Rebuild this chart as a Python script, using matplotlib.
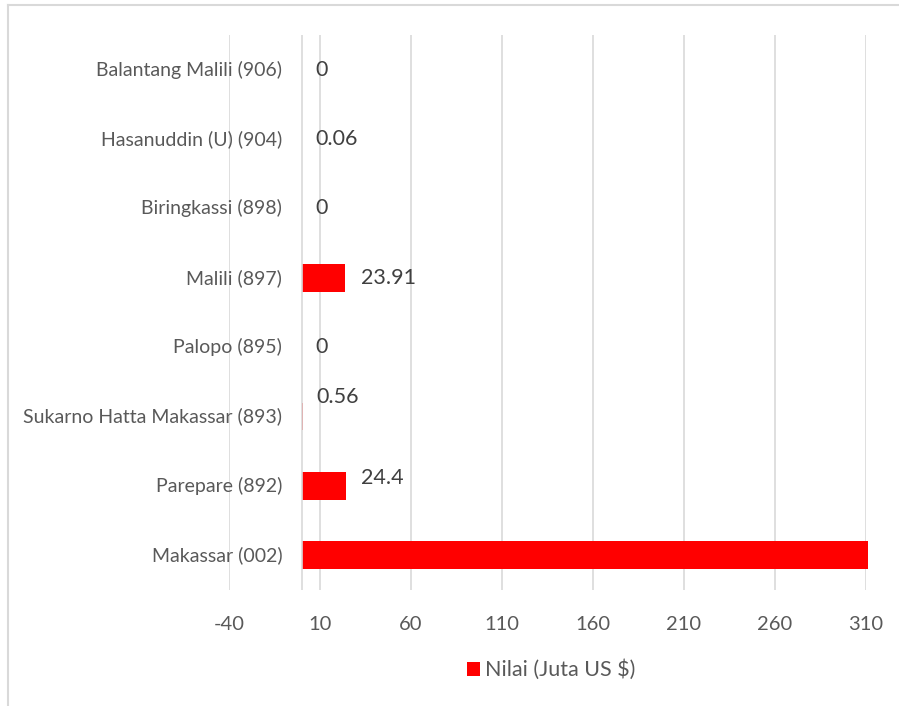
import matplotlib.pyplot as plt
from matplotlib.lines import Line2D

plt.rcParams['font.family'] = ['Lato', 'DejaVu Sans']

# data, bottom to top as in the chart
ports = ["Makassar (002)", "Parepare (892)", "Sukarno Hatta Makassar (893)",
         "Palopo (895)", "Malili (897)", "Biringkassi (898)",
         "Hasanuddin (U) (904)", "Balantang Malili (906)"]
values = [311, 24.4, 0.56, 0, 23.91, 0, 0.06, 0]
labels = ["311", "24.4", "0.56", "0", "23.91", "0", "0.06", "0"]
xticks = [-40, 10, 60, 110, 160, 210, 260, 310]

grey = "#595959"

fig = plt.figure(figsize=(8.99, 7.06), dpi=100)
ax = fig.add_axes([0.2547, 0.1643, 0.7086, 0.7861])

y = list(range(len(ports)))
ax.barh(y, values, height=0.4, color="#FF0000", zorder=3, clip_on=False,
        label="Nilai (Juta US $)")

ax.set_xlim(-40, 310)
ax.set_ylim(-0.5, len(ports) - 0.5)
ax.set_xticks(xticks)
ax.set_xticklabels([str(t) for t in xticks], fontsize=14.5, color=grey)
ax.tick_params(axis="x", length=0, pad=19)
ax.grid(axis="x", color="#D9D9D9", linewidth=1.2, zorder=0)
ax.axvline(0, color="#D9D9D9", linewidth=1.2, zorder=4)
for s in ax.spines.values():
    s.set_visible(False)

# category labels sit left of the zero line, like excel
ax.set_yticks([])
for yi, name in zip(y, ports):
    ax.annotate(name, xy=(0, yi), xytext=(-14, 0), textcoords="offset points",
                ha="right", va="center", fontsize=14, color=grey)

# data labels (some nudged up like in the original)
nudge = {2: 14, 1: 6}
for yi, v, lab in zip(y, values, labels):
    if v > 300:
        continue
    ax.annotate(lab, xy=(v, yi), xytext=(11 if v > 1 else 10, nudge.get(yi, 0)),
                textcoords="offset points", ha="left", va="center",
                fontsize=15.5, color="#404040")

leg = fig.legend(loc="center", bbox_to_anchor=(0.613, 0.051), frameon=False,
                 fontsize=15.5, handlelength=0.6, handleheight=0.6,
                 handletextpad=0.25)
for t in leg.get_texts():
    t.set_color(grey)

# chart area border, only left and top show in the crop
fig.add_artist(Line2D([8 / 899, 8 / 899], [0, 1 - 5 / 706], color="#D9D9D9", lw=1.5))
fig.add_artist(Line2D([8 / 899, 1], [1 - 5 / 706, 1 - 5 / 706], color="#D9D9D9", lw=1.5))

fig.savefig("out.png", dpi=100)
